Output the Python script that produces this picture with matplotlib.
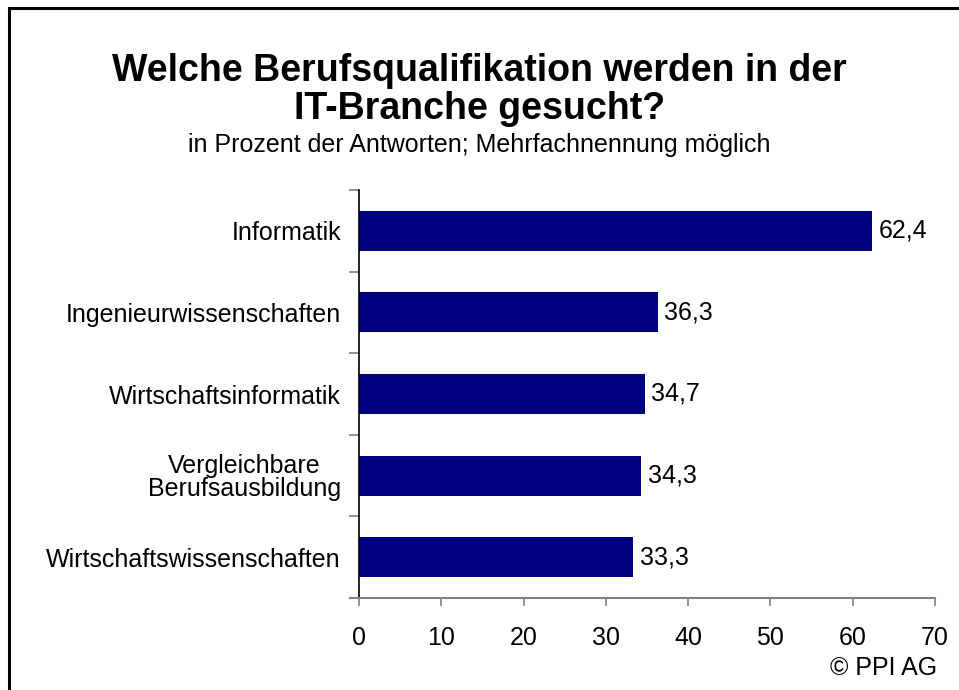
import matplotlib
matplotlib.use("Agg")
import matplotlib.pyplot as plt
from matplotlib.patches import Rectangle

plt.rcParams['font.family'] = ['Liberation Sans', 'DejaVu Sans']

categories = ["Informatik", "Ingenieurwissenschaften", "Wirtschaftsinformatik",
              "Vergleichbare\nBerufsausbildung", "Wirtschaftswissenschaften"]
values = [62.4, 36.3, 34.7, 34.3, 33.3]
value_labels = ["62,4", "36,3", "34,7", "34,3", "33,3"]
xticks = [0, 10, 20, 30, 40, 50, 60, 70]

FS = 18

fig = plt.figure(figsize=(9.59, 6.90), dpi=100)
fig.patch.set_facecolor("white")
ax = fig.add_axes([359/959, 1-598/690, (935-359)/959, (598-190)/690])

n = len(categories)
ypos = list(range(n))
ax.barh(ypos, values, height=0.49, color="#000080")
ax.set_ylim(n - 0.5, -0.5)
ax.set_xlim(0, 70)

for y, v, lab in zip(ypos, values, value_labels):
    ax.text(v + 0.8, y, lab, va="center", ha="left", fontsize=FS)

ax.set_yticks(ypos)
ax.set_yticklabels(categories, fontsize=FS, ha="right", multialignment="center",
                   linespacing=0.95)
ax.tick_params(axis="y", length=0, pad=13)
ax.set_yticks([y - 0.5 for y in ypos] + [n - 0.5], minor=True)
ax.tick_params(axis="y", which="minor", length=7, color="#808080", width=1.2, direction="out")

ax.set_xticks(xticks)
ax.set_xticklabels([str(t) for t in xticks], fontsize=FS)
ax.tick_params(axis="x", length=6, color="#808080", width=1.2, direction="out", pad=14)

for s in ["top", "right"]:
    ax.spines[s].set_visible(False)
ax.spines["left"].set_color("black")
ax.spines["left"].set_linewidth(1.2)
ax.spines["bottom"].set_color("#808080")
ax.spines["bottom"].set_linewidth(1.5)
ax.spines["bottom"].set_bounds(-1.1, 70)

fig.text(0.5, 1-71/690, "Welche Berufsqualifikation werden in der", ha="center", va="center",
         fontsize=27, fontweight="bold")
fig.text(0.5, 1-109/690, "IT-Branche gesucht?", ha="center", va="center",
         fontsize=27, fontweight="bold")
fig.text(0.5, 1-145/690, "in Prozent der Antworten; Mehrfachnennung möglich", ha="center",
         va="center", fontsize=FS)
fig.text(937/959, 1-668/690, "© PPI AG", ha="right", va="center", fontsize=FS)

fig.patches.append(Rectangle((9/959, -0.05), 1.0, 1 - 8/690 + 0.05, transform=fig.transFigure,
                             fill=False, edgecolor="black", linewidth=2.2))

fig.savefig("out.png", dpi=100)
